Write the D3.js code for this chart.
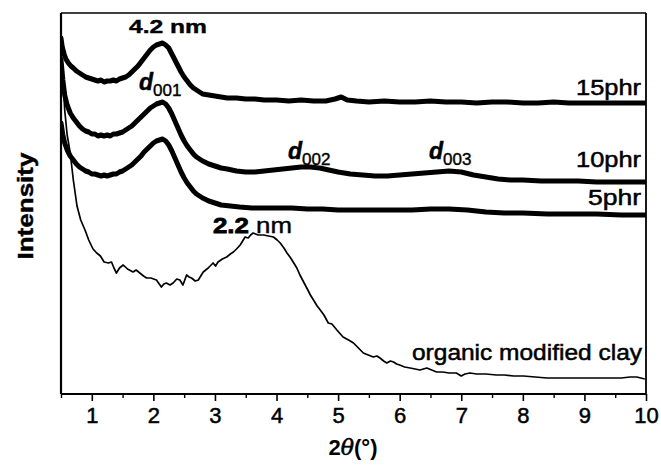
<!DOCTYPE html>
<html>
<head>
<meta charset="utf-8">
<script src="https://cdn.jsdelivr.net/npm/d3@7"></script>
<style>
  html, body { margin: 0; padding: 0; background: #fff; }
  svg { display: block; font-family: Arial, "Liberation Sans", Helvetica, sans-serif; }
</style>
</head>
<body>
<svg id="chart" width="661" height="467"></svg>
<script>
// ---- data (2θ in degrees, intensity in arbitrary units) ----
const xTicks = [1, 2, 3, 4, 5, 6, 7, 8, 9, 10];
const xMinorTicks = [0.5, 1.5, 2.5, 3.5, 4.5, 5.5, 6.5, 7.5, 8.5, 9.5];

const theta15 = [0.50,0.52,0.55,0.58,0.62,0.66,0.70,0.75,0.80,0.85,0.90,0.95,1.00,1.05,1.10,1.15,1.20,1.25,1.30,1.35,1.40,1.45,1.50,1.55,1.60,1.65,1.70,1.75,1.80,1.85,1.90,1.95,2.00,2.05,2.10,2.15,2.20,2.25,2.30,2.35,2.40,2.45,2.50,2.55,2.60,2.65,2.70,2.75,2.80,2.90,3.00,3.10,3.20,3.35,3.50,3.65,3.80,4.00,4.20,4.40,4.60,4.80,4.95,5.05,5.15,5.30,5.50,5.75,6.00,6.25,6.50,6.75,7.00,7.25,7.50,7.75,8.00,8.25,8.50,8.75,9.00,9.25,9.50,9.75,10.00];
const int15 = [356,347,340,335,331,328,326,323,321,319,317,316,315,314,313,314,312,313,313,314,313,315,316,317,319,322,325,328,332,336,340,344,347,349,350,351,349,346,340,334,328,322,317,313,309,306,304,302,300,299,298,297,296,296,295,295,294,294,293,294,293,293,295,297,294,293,292,293,292,292,293,292,292,291,292,292,291,291,292,291,291,291,291,291,291];

const theta10 = [0.50,0.53,0.56,0.60,0.65,0.70,0.75,0.80,0.85,0.90,0.95,1.00,1.05,1.10,1.15,1.20,1.25,1.30,1.35,1.40,1.45,1.50,1.55,1.60,1.65,1.70,1.75,1.80,1.85,1.90,1.95,2.00,2.05,2.10,2.15,2.20,2.25,2.30,2.35,2.40,2.45,2.50,2.55,2.60,2.65,2.70,2.75,2.80,2.90,3.00,3.10,3.20,3.35,3.50,3.65,3.80,3.95,4.10,4.25,4.40,4.55,4.70,4.85,5.00,5.20,5.40,5.60,5.80,6.00,6.20,6.40,6.60,6.80,7.00,7.20,7.40,7.60,7.80,8.00,8.30,8.60,8.90,9.20,9.50,9.80,10.00];
const int10 = [334,314,299,289,281,276,272,268,265,263,262,260,260,258,259,258,259,258,260,260,261,262,264,266,268,271,274,277,280,283,286,288,290,291,292,290,286,280,273,266,259,253,248,244,240,237,235,233,230,228,226,225,223,222,222,223,224,225,226,227,227,226,224,222,220,219,218,218,219,220,221,222,223,222,219,217,215,214,214,213,213,213,212,212,212,212];

const theta5 = [0.50,0.53,0.56,0.60,0.65,0.70,0.75,0.80,0.85,0.90,0.95,1.00,1.05,1.10,1.15,1.20,1.25,1.30,1.35,1.40,1.45,1.50,1.55,1.60,1.65,1.70,1.75,1.80,1.85,1.90,1.95,2.00,2.05,2.10,2.15,2.20,2.25,2.30,2.35,2.40,2.45,2.50,2.55,2.60,2.65,2.70,2.75,2.80,2.90,3.00,3.10,3.25,3.40,3.60,3.80,4.00,4.25,4.50,4.75,5.00,5.30,5.60,5.90,6.20,6.50,6.80,7.10,7.40,7.70,8.00,8.40,8.80,9.20,9.60,10.00];
const int5 = [271,259,251,244,238,234,230,227,225,223,222,220,220,219,218,219,218,219,220,220,222,223,225,227,229,232,235,238,242,245,248,251,253,254,255,253,249,243,236,229,222,216,211,207,203,200,198,196,193,191,189,188,187,186,186,186,186,185,185,184,184,184,184,184,185,185,184,182,181,181,180,180,180,179,179];

const thetaClay = [0.50,0.53,0.56,0.60,0.65,0.70,0.76,0.82,0.89,0.95,1.02,1.08,1.14,1.20,1.27,1.32,1.36,1.40,1.45,1.51,1.58,1.67,1.72,1.78,1.84,1.89,1.96,2.05,2.13,2.17,2.21,2.27,2.32,2.38,2.43,2.48,2.54,2.58,2.62,2.68,2.73,2.81,2.89,2.97,3.01,3.05,3.12,3.19,3.25,3.30,3.35,3.41,3.45,3.49,3.54,3.58,3.62,3.70,3.79,3.87,3.95,4.01,4.06,4.12,4.17,4.23,4.28,4.33,4.38,4.44,4.50,4.55,4.60,4.66,4.71,4.77,4.84,4.90,4.98,5.08,5.17,5.25,5.33,5.41,5.49,5.57,5.63,5.68,5.74,5.79,5.85,5.90,5.95,6.00,6.08,6.17,6.25,6.33,6.44,6.52,6.60,6.70,6.80,6.92,7.00,7.06,7.14,7.25,7.40,7.57,7.70,7.85,8.01,8.20,8.39,8.55,8.70,8.93,9.10,9.30,9.47,9.60,9.74,9.85,9.98];
const intClay = [350,319,284,259,241,214,188,174,164,154,145,141,138,132,131,132,126,121,126,129,125,122,124,121,118,116,116,114,107,110,111,109,111,115,114,109,119,117,116,113,114,122,126,131,128,132,135,137,140,142,145,149,153,157,156,159,161,159,159,158,157,154,151,146,141,136,131,126,119,112,105,99,94,88,84,79,71,70,64,57,54,51,46,41,39,37,38,36,33,31,33,32,30,29,27,26,25,24,26,24,22,22,21,21,18,20,21,20,20,19,19,18,18,17,16,16,16,16,16,16,16,16,17,17,15];

const seriesNames = ["15phr", "10phr", "5phr", "organic modified clay"];

// ---- layout ----
const svg = d3.select("#chart");
const mLeft = 61, mRight = 646, mTop = 13, mBottom = 394;

const x = d3.scaleLinear().domain([0.5, 10]).range([mLeft, mRight]);
const y = d3.scaleLinear().domain([0, 381]).range([mBottom, mTop]);

const line = d3.line().x(d => x(d[0])).y(d => y(d[1])).curve(d3.curveLinear);
const zip = (a, b) => a.map((v, i) => [v, b[i]]);

svg.append("clipPath").attr("id", "plotclip")
  .append("rect").attr("x", mLeft).attr("y", mTop).attr("width", mRight - mLeft).attr("height", mBottom - mTop);

const g = svg.append("g").attr("clip-path", "url(#plotclip)");

// thick sample curves
[[theta15, int15], [theta10, int10], [theta5, int5]].forEach(([tx, iy]) => {
  g.append("path").datum(zip(tx, iy))
    .attr("d", line)
    .attr("fill", "none")
    .attr("stroke", "#000")
    .attr("stroke-width", 5)
    .attr("stroke-linejoin", "round")
    .attr("stroke-linecap", "round");
});
// thin clay curve
g.append("path").datum(zip(thetaClay, intClay))
  .attr("d", line)
  .attr("fill", "none")
  .attr("stroke", "#000")
  .attr("stroke-width", 1.7)
  .attr("stroke-linejoin", "round");

// ---- axes ----
const xAxis = d3.axisBottom(x).tickValues(xTicks).tickSize(7).tickPadding(6).tickFormat(d3.format("d"));
const xg = svg.append("g").attr("transform", `translate(0,${mBottom})`).call(xAxis);
xg.select(".domain").remove();
xg.selectAll(".tick line").attr("stroke", "#000").attr("stroke-width", 1.6);
xg.selectAll(".tick text").attr("font-size", 22).attr("fill", "#000")
  .attr("stroke", "#000").attr("stroke-width", 0.5)
  .attr("font-family", "Arial, 'Liberation Sans', sans-serif");

const xMinor = d3.axisBottom(x).tickValues(xMinorTicks).tickSize(4).tickFormat("");
const xmg = svg.append("g").attr("transform", `translate(0,${mBottom})`).call(xMinor);
xmg.select(".domain").remove();
xmg.selectAll(".tick line").attr("stroke", "#000").attr("stroke-width", 1.4);

// frame
svg.append("line").attr("x1", mLeft).attr("x2", mRight).attr("y1", mBottom).attr("y2", mBottom).attr("stroke", "#000").attr("stroke-width", 2.2);
svg.append("line").attr("x1", mLeft).attr("x2", mLeft).attr("y1", mTop).attr("y2", mBottom).attr("stroke", "#000").attr("stroke-width", 2.2);
svg.append("line").attr("x1", mLeft).attr("x2", mRight).attr("y1", mTop).attr("y2", mTop).attr("stroke", "#000").attr("stroke-width", 1.6);
svg.append("line").attr("x1", mRight).attr("x2", mRight).attr("y1", mTop).attr("y2", mBottom).attr("stroke", "#000").attr("stroke-width", 1.8);

// ---- axis titles ----
const xt = svg.append("text").attr("x", 353).attr("y", 455).attr("text-anchor", "middle")
  .attr("font-size", 22).attr("font-weight", "bold").attr("fill", "#000");
xt.append("tspan").text("2");
xt.append("tspan").attr("font-style", "italic").attr("font-family", "'DejaVu Serif', serif").attr("font-weight", "normal")
  .attr("stroke", "#000").attr("stroke-width", 0.6).text("θ");
xt.append("tspan").text("(°)");

svg.append("text").attr("transform", "translate(33,206) rotate(-90)")
  .attr("text-anchor", "middle").attr("font-size", 22).attr("font-weight", "bold")
  .attr("stroke", "#000").attr("stroke-width", 0.4)
  .attr("textLength", 107).attr("lengthAdjust", "spacingAndGlyphs").text("Intensity");

// ---- series labels ----
const labelSpecs = [
  { text: seriesNames[0], x: 641, y: 95, len: 65 },
  { text: seriesNames[1], x: 641, y: 167, len: 65 },
  { text: seriesNames[2], x: 641, y: 205, len: 53 },
  { text: seriesNames[3], x: 642, y: 360, len: 230 }
];
labelSpecs.forEach(s => {
  svg.append("text").attr("x", s.x).attr("y", s.y).attr("text-anchor", "end")
    .attr("font-size", 22).attr("fill", "#000")
    .attr("stroke", "#000").attr("stroke-width", 0.5)
    .attr("textLength", s.len).attr("lengthAdjust", "spacingAndGlyphs").text(s.text);
});

// ---- annotations ----
svg.append("text").attr("x", 129).attr("y", 33).attr("font-size", 19).attr("font-weight", "bold")
  .attr("stroke", "#000").attr("stroke-width", 0.4)
  .attr("textLength", 78).attr("lengthAdjust", "spacingAndGlyphs").text("4.2 nm");

const t22 = svg.append("text").attr("x", 213).attr("y", 233).attr("font-size", 22)
  .attr("textLength", 79).attr("lengthAdjust", "spacingAndGlyphs");
t22.append("tspan").attr("font-weight", "bold").attr("stroke", "#000").attr("stroke-width", 0.8).text("2.2");
t22.append("tspan").attr("stroke", "#000").attr("stroke-width", 0.4).text(" nm");

const dLabels = [
  { sub: "001", x: 139, y: 90 },
  { sub: "002", x: 288, y: 159 },
  { sub: "003", x: 429, y: 159 }
];
dLabels.forEach(d => {
  const t = svg.append("text").attr("x", d.x).attr("y", d.y);
  t.append("tspan").attr("font-size", 23).attr("font-weight", "bold").attr("font-style", "italic")
    .attr("stroke", "#000").attr("stroke-width", 0.5).text("d");
  t.append("tspan").attr("font-size", 17).attr("dy", 6).attr("stroke", "#000").attr("stroke-width", 0.4).text(d.sub);
});
</script>
</body>
</html>
